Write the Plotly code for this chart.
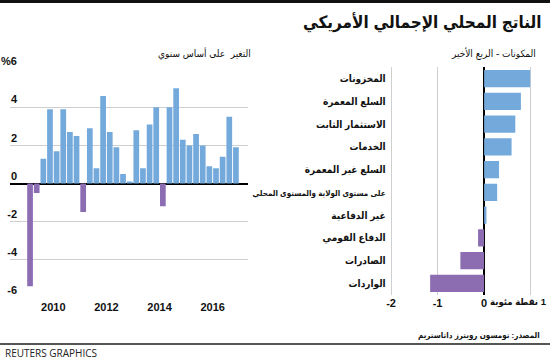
import plotly.graph_objects as go

# ---------------- data ----------------
quarters = ["2009Q1", "2009Q2", "2009Q3", "2009Q4",
            "2010Q1", "2010Q2", "2010Q3", "2010Q4",
            "2011Q1", "2011Q2", "2011Q3", "2011Q4",
            "2012Q1", "2012Q2", "2012Q3", "2012Q4",
            "2013Q1", "2013Q2", "2013Q3", "2013Q4",
            "2014Q1", "2014Q2", "2014Q3", "2014Q4",
            "2015Q1", "2015Q2", "2015Q3", "2015Q4",
            "2016Q1", "2016Q2", "2016Q3", "2016Q4"]
growth = [-5.4, -0.5, 1.3, 3.9,
          1.7, 3.9, 2.7, 2.5,
          -1.5, 2.9, 0.8, 4.6,
          2.7, 1.9, 0.5, 0.1,
          2.8, 0.8, 3.1, 4.0,
          -1.2, 4.0, 5.0, 2.3,
          2.0, 2.6, 2.0, 0.9,
          0.8, 1.4, 3.5, 1.9]
year_ticks = [2010, 2012, 2014, 2016]
year_labels = ["2010", "2012", "2014", "2016"]
growth_ticks = [-6, -4, -2, 0, 2, 4, 6]
growth_labels = ["-6", "-4", "-2", "0", "2", "4", "%6"]

components = ["المخزونات", "السلع المعمرة", "الاستثمار الثابت", "الخدمات",
              "السلع غير المعمرة", "على مستوى الولاية والمستوى المحلي",
              "غير الدفاعية", "الدفاع القومي", "الصادرات", "الواردات"]
contrib = [0.99, 0.79, 0.67, 0.59, 0.32, 0.28, 0.05, -0.13, -0.51, -1.16]
contrib_ticks = [-2, -1, 0, 1]
contrib_labels = ["-2", "-1", "0", ""]

title = "الناتج المحلي الإجمالي الأمريكي"
sub_left = "التغير  على أساس سنوي"
sub_right = "المكونات - الربع الأخير"
unit_word = "نقطة مئوية"
unit_value = "1"
source = "المصدر: تومسون رويترز داتاستريم"
credit = "REUTERS GRAPHICS"

# ---------------- styling ----------------
W, H = 550, 360
BLUE = "#74a9dc"
PURPLE = "#8c6db2"
GRID = "#cfcfcf"
FONT = "Liberation Sans, DejaVu Sans Condensed, DejaVu Sans, sans-serif"
LRM = "\u200e"


def px_x(p):
    return p / W


def px_y(p):
    return 1 - p / H


def qpos(q):
    y = int(q[:4])
    n = int(q[-1])
    return y + (n - 0.5) / 4


xq = [qpos(q) for q in quarters]
colors_l = [BLUE if v >= 0 else PURPLE for v in growth]
colors_r = [BLUE if v >= 0 else PURPLE for v in contrib]

fig = go.Figure()
fig.add_trace(go.Bar(x=xq, y=growth, width=0.215, marker=dict(color=colors_l, line=dict(width=0)),
                     xaxis="x", yaxis="y", showlegend=False, hoverinfo="skip"))

comp_text = [c if len(c) < 20 else '<span style="font-size:8px">' + c + '</span>' for c in components]
fig.add_trace(go.Bar(y=comp_text, x=contrib, orientation="h",
                     marker=dict(color=colors_r, line=dict(width=0)),
                     xaxis="x2", yaxis="y2", showlegend=False, hoverinfo="skip"))

tickfont = dict(size=11, weight="bold", color="#111", family=FONT)
catfont = dict(size=10, weight="bold", color="#111", family=FONT)

fig.update_layout(
    template="none",
    width=W, height=H, autosize=False,
    margin=dict(l=0, r=0, t=0, b=0, pad=0),
    paper_bgcolor="white", plot_bgcolor="white",
    font=dict(family=FONT, color="#111"),
    bargap=0.24,
    hovermode=False,
    xaxis=dict(domain=[px_x(10), px_x(248)], range=[2008.37, 2017.33],
               tickvals=year_ticks, ticktext=year_labels, showgrid=False,
               zeroline=False, showline=False, ticks="", automargin=False,
               tickfont=tickfont, anchor="y"),
    yaxis=dict(domain=[px_y(298.7), px_y(68.3)], range=[-6.05, 6.05],
               tickvals=growth_ticks, ticktext=growth_labels,
               showgrid=True, gridcolor=GRID, gridwidth=1,
               zeroline=True, zerolinecolor="#000", zerolinewidth=2,
               showline=False, ticks="", ticklabelposition="outside top",
               ticklabelstandoff=-8, automargin=False,
               tickfont=tickfont, anchor="x"),
    xaxis2=dict(domain=[px_x(388.7), px_x(533.0)], range=[-2.05, 1.05],
                tickvals=contrib_ticks, ticktext=contrib_labels,
                showgrid=True, gridcolor=GRID, gridwidth=1,
                zeroline=True, zerolinecolor="#000", zerolinewidth=2,
                showline=False, ticks="", automargin=False,
                tickfont=tickfont, anchor="y2"),
    yaxis2=dict(domain=[px_y(294.7), px_y(67.3)], autorange="reversed",
                showgrid=False, zeroline=False, showline=False, ticks="",
                ticklabelstandoff=2, automargin=False,
                tickfont=catfont, anchor="x2"),
)

annots = [
    dict(text="<b>" + title + "</b>", x=px_x(543), y=px_y(22), xanchor="right", yanchor="middle",
         font=dict(size=17, color="#111")),
    dict(text=sub_right, x=px_x(538), y=px_y(53), xanchor="right", yanchor="middle",
         font=dict(size=10, color="#111")),
    dict(text=sub_left, x=px_x(253), y=px_y(53), xanchor="right", yanchor="middle",
         font=dict(size=10, color="#111")),
    dict(text="<b>" + unit_word + " " + LRM + unit_value + "</b>", x=px_x(549), y=px_y(302),
         xanchor="right", yanchor="middle", font=dict(size=9.5, color="#111")),
    dict(text="<b>" + source + "</b>", x=px_x(542), y=px_y(335), xanchor="right", yanchor="middle",
         font=dict(size=8, color="#111")),
    dict(text=credit, x=px_x(3), y=px_y(353), xanchor="left", yanchor="middle",
         font=dict(size=10, color="#222", family="Open Sans, sans-serif")),
]
for a in annots:
    a.update(xref="paper", yref="paper", showarrow=False)
fig.update_layout(annotations=annots)

fig.update_layout(shapes=[
    dict(type="rect", xref="paper", yref="paper", x0=0, x1=1, y0=px_y(3), y1=1,
         fillcolor="#111", line=dict(width=0)),
    dict(type="line", xref="paper", yref="paper", x0=0, x1=1, y0=px_y(344), y1=px_y(344),
         line=dict(color="#555", width=2)),
])

fig.write_html("out.html", config={"displayModeBar": False, "staticPlot": True},
               post_script="document.body.style.margin='0';document.body.style.padding='0';")
